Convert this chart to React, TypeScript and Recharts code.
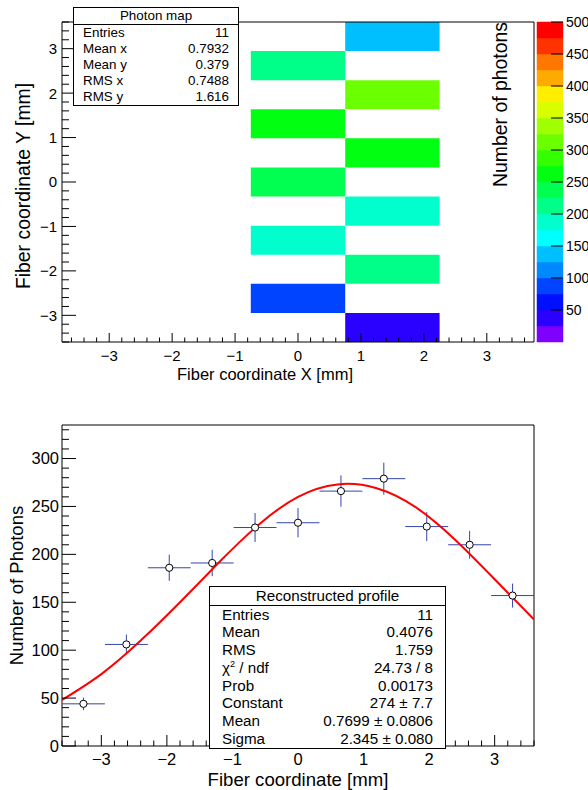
import React from "react";
import {
  ComposedChart,
  Scatter,
  Line,
  XAxis,
  YAxis,
  ReferenceArea,
  ReferenceLine,
  ErrorBar,
  Label,
} from "recharts";

const FONT = '"Liberation Sans", Arial, Helvetica, sans-serif';

// y-bin centres of the photon map, also the x positions of the profile points
const binCenters = [-3.273, -2.618, -1.964, -1.309, -0.655, 0, 0.655, 1.309, 1.964, 2.618, 3.273];
// which fiber column (x centre) is lit in each y bin
const mapColumn = [1.5, 0, 1.5, 0, 1.5, 0, 1.5, 0, 1.5, 0, 1.5];
const mapPhotons = [44, 90, 215, 185, 188, 237, 265, 262, 310, 212, 140];

const profilePhotons = [44, 106, 186, 191, 228, 233, 266, 279, 229, 210, 157];
const profileErrors = [6.6, 10.3, 13.6, 13.8, 15.1, 15.3, 16.3, 16.7, 15.1, 14.5, 12.5];
const profileXError = 0.327;

// gaussian fit
const fitX = [-3.6, -3.0, -2.4, -1.8, -1.2, -0.6, 0, 0.6, 1.2, 1.8, 2.4, 3.0, 3.6];
const fitY = [48, 75, 110, 150, 192, 231, 260, 273, 269, 249, 215, 174, 132];

// colour palette: 20 contours of 25 photons
const paletteLevels = [0, 25, 50, 75, 100, 125, 150, 175, 200, 225, 250, 275, 300, 325, 350, 375, 400, 425, 450, 475];
const paletteColors = [
  "#7f00ff", "#2a00ff", "#0010ff", "#0044ff", "#0088ff",
  "#00bfff", "#00ffff", "#00ffcc", "#00ff88", "#00ff50",
  "#00ff10", "#33ff00", "#6cff00", "#a0ff00", "#d8ff00",
  "#ffee00", "#ffaa00", "#ff7700", "#ff3300", "#ff0000",
];
const colorBarTicks = [50, 100, 150, 200, 250, 300, 350, 400, 450, 500];

const mapXTicks = [-3, -2, -1, 0, 1, 2, 3];
const mapYTicks = [-3, -2, -1, 0, 1, 2, 3];
const profileXTicks = [-3, -2, -1, 0, 1, 2, 3];
const profileYTicks = [0, 50, 100, 150, 200, 250, 300];

const mapStats = [
  ["Entries", "11"],
  ["Mean x", "0.7932"],
  ["Mean y", "0.379"],
  ["RMS x", "0.7488"],
  ["RMS y", "1.616"],
];
const profileStats = [
  ["Entries", "11"],
  ["Mean", "0.4076"],
  ["RMS", "1.759"],
  ["chi2", "24.73 / 8"],
  ["Prob", "0.00173"],
  ["Constant", "274 \u00b1 7.7"],
  ["Mean", "0.7699 \u00b1 0.0806"],
  ["Sigma", "2.345 \u00b1 0.080"],
];

const MAP_X = [-3.75, 3.75];
const MAP_Y = [-3.6, 3.6];
const MAP_HALF_X = 0.75;
const MAP_HALF_Y = 0.3273;
const PROF_X = [-3.6, 3.6];
const PROF_Y = [0, 335];

function minorTicks(lo: number, hi: number, step: number) {
  const out: number[] = [];
  const start = Math.ceil(lo / step - 1e-9);
  const end = Math.floor(hi / step + 1e-9);
  for (let k = start; k <= end; k++) out.push(Number((k * step).toFixed(6)));
  return out;
}

const fmt = (v: number) => (v < 0 ? "\u2212" + Math.abs(v) : String(v));
const isIn = (list: number[], v: number) => list.some((m) => Math.abs(m - v) < 1e-6);

function xTick(majors: number[], majorLen: number, minorLen: number, fontSize: number, gap: number) {
  return (props: any) => {
    const { x, y, payload } = props;
    const major = isIn(majors, payload.value);
    return (
      <g>
        <line x1={x} x2={x} y1={y} y2={y - (major ? majorLen : minorLen)} stroke="#000" />
        {major && (
          <text x={x} y={y + gap} textAnchor="middle" dy="0.71em" fontSize={fontSize} fontFamily={FONT} fill="#000">
            {fmt(payload.value)}
          </text>
        )}
      </g>
    );
  };
}

function yTick(majors: number[], majorLen: number, minorLen: number, fontSize: number, gap: number) {
  return (props: any) => {
    const { x, y, payload } = props;
    const major = isIn(majors, payload.value);
    return (
      <g>
        <line x1={x} x2={x + (major ? majorLen : minorLen)} y1={y} y2={y} stroke="#000" />
        {major && (
          <text x={x - gap} y={y} textAnchor="end" dy="0.36em" fontSize={fontSize} fontFamily={FONT} fill="#000">
            {fmt(payload.value)}
          </text>
        )}
      </g>
    );
  };
}

function colorFor(v: number) {
  let idx = 0;
  paletteLevels.forEach((l, i) => {
    if (v >= l) idx = i;
  });
  return paletteColors[idx];
}

function StatsBox({ title, rows, left, top, width, titleH, rowH, fontSize, pad }: any) {
  return (
    <div
      style={{
        position: "absolute",
        left,
        top,
        width,
        background: "#fff",
        border: "1px solid #000",
        boxSizing: "border-box",
        fontFamily: FONT,
        fontSize,
        color: "#000",
      }}
    >
      <div style={{ height: titleH, lineHeight: titleH + "px", textAlign: "center", borderBottom: "1px solid #000" }}>
        {title}
      </div>
      {rows.map(([k, v]: string[], i: number) => (
        <div
          key={i}
          style={{ height: rowH, lineHeight: rowH + "px", display: "flex", justifyContent: "space-between", padding: `0 ${pad}px` }}
        >
          <span>
            {k === "chi2" ? (
              <>
                {"\u03c7"}
                <span style={{ fontSize: "0.6em", position: "relative", top: "-0.7em" }}>2</span>
                {" / ndf"}
              </>
            ) : (
              k
            )}
          </span>
          <span>{v}</span>
        </div>
      ))}
    </div>
  );
}

export default function App() {
  const profile = binCenters.map((x, i) => ({
    x,
    y: profilePhotons[i],
    ey: profileErrors[i],
    ex: profileXError,
  }));
  const fit = fitX.map((x, i) => ({ x, y: fitY[i] }));

  return (
    <div style={{ position: "relative", width: 588, height: 790, background: "#fff", overflow: "hidden" }}>
      <style>{"body{margin:0}"}</style>

      {/* photon map */}
      <div style={{ position: "absolute", left: 0, top: 0 }}>
        <ComposedChart width={588} height={395} margin={{ top: 22, right: 54, bottom: 23, left: 10 }}>
          <XAxis
            type="number"
            dataKey="x"
            domain={MAP_X}
            allowDataOverflow
            ticks={minorTicks(MAP_X[0], MAP_X[1], 0.2)}
            interval={0}
            height={30}
            tickSize={0}
            tickMargin={0}
            axisLine={false}
            tickLine={false}
            tick={xTick(mapXTicks, 9, 4.5, 15, 8)}
          >
            <Label value="Fiber coordinate X [mm]" position="insideTop" offset={26} dx={-33} fontSize={16.5} fontFamily={FONT} fill="#000" />
          </XAxis>
          <YAxis
            type="number"
            domain={MAP_Y}
            allowDataOverflow
            ticks={minorTicks(MAP_Y[0], MAP_Y[1], 0.2)}
            interval={0}
            width={52}
            tickSize={0}
            tickMargin={0}
            axisLine={false}
            tickLine={false}
            tick={yTick(mapYTicks, 14, 7, 15, 5)}
          >
            <Label
              value="Fiber coordinate Y [mm]"
              position="insideLeft"
              offset={13}
              angle={-90}
              textAnchor="middle"
              dy={4}
              fontSize={19.4}
              fontFamily={FONT}
              fill="#000"
            />
          </YAxis>
          {binCenters.map((c, i) => (
            <ReferenceArea
              key={i}
              x1={mapColumn[i] - MAP_HALF_X}
              x2={mapColumn[i] + MAP_HALF_X}
              y1={c - MAP_HALF_Y}
              y2={c + MAP_HALF_Y}
              ifOverflow="hidden"
              fill={colorFor(mapPhotons[i])}
              fillOpacity={1}
              stroke="none"
            />
          ))}
          <ReferenceArea x1={MAP_X[0]} x2={MAP_X[1]} y1={MAP_Y[0]} y2={MAP_Y[1]} ifOverflow="visible" fill="none" stroke="#000" strokeWidth={1} />
        </ComposedChart>
      </div>

      {/* colour bar */}
      <div style={{ position: "absolute", left: 0, top: 0 }}>
        <ComposedChart width={588} height={395} margin={{ top: 22, right: 0, bottom: 53, left: 537 }}>
          <XAxis type="number" dataKey="x" domain={[0, 1]} allowDataOverflow hide />
          <YAxis
            type="number"
            orientation="right"
            domain={[0, 500]}
            allowDataOverflow
            ticks={colorBarTicks}
            interval={0}
            width={25}
            tickSize={0}
            tickMargin={0}
            axisLine={false}
            tickLine={false}
            tick={(props: any) => (
              <text x={props.x + 3} y={props.y} dy="0.36em" fontSize={14} fontFamily={FONT} fill="#000">
                {props.payload.value}
              </text>
            )}
          />
          {paletteLevels.map((l, i) => (
            <ReferenceArea
              key={i}
              x1={0}
              x2={1}
              y1={l}
              y2={l + 25}
              ifOverflow="visible"
              fill={paletteColors[i]}
              fillOpacity={1}
              stroke={paletteColors[i]}
              strokeWidth={0.5}
            />
          ))}
          {colorBarTicks.map((t) => (
            <ReferenceLine
              key={t}
              segment={[
                { x: 0.54, y: t },
                { x: 1, y: t },
              ]}
              ifOverflow="visible"
              stroke="#000"
              strokeWidth={1}
            />
          ))}
        </ComposedChart>
      </div>

      <svg width={588} height={395} style={{ position: "absolute", left: 0, top: 0 }}>
        <text
          x={507}
          y={22}
          transform="rotate(-90 507 22)"
          textAnchor="end"
          fontSize={19.4}
          fontFamily={FONT}
          fill="#000"
        >
          Number of photons
        </text>
      </svg>

      <StatsBox title="Photon map" rows={mapStats} left={73} top={7} width={166} titleH={16} rowH={16} fontSize={13.4} pad={9} />

      {/* reconstructed profile */}
      <div style={{ position: "absolute", left: 0, top: 395 }}>
        <ComposedChart width={588} height={395} margin={{ top: 30, right: 54, bottom: 14, left: 10 }}>
          <XAxis
            type="number"
            dataKey="x"
            domain={PROF_X}
            allowDataOverflow
            ticks={minorTicks(PROF_X[0], PROF_X[1], 0.2)}
            interval={0}
            height={30}
            tickSize={0}
            tickMargin={0}
            axisLine={false}
            tickLine={false}
            tick={xTick(profileXTicks, 11, 5.5, 16.5, 7)}
          >
            <Label value="Fiber coordinate [mm]" position="insideTop" offset={26.5} fontSize={18.6} fontFamily={FONT} fill="#000" />
          </XAxis>
          <YAxis
            type="number"
            domain={PROF_Y}
            allowDataOverflow
            ticks={minorTicks(PROF_Y[0], PROF_Y[1], 10)}
            interval={0}
            width={52}
            tickSize={0}
            tickMargin={0}
            axisLine={false}
            tickLine={false}
            tick={yTick(profileYTicks, 14, 7, 16.5, 3)}
          >
            <Label
              value="Number of Photons"
              position="insideLeft"
              offset={6.4}
              angle={-90}
              textAnchor="middle"
              fontSize={18.5}
              fontFamily={FONT}
              fill="#000"
            />
          </YAxis>
          <ReferenceArea x1={PROF_X[0]} x2={PROF_X[1]} y1={PROF_Y[0]} y2={PROF_Y[1]} ifOverflow="visible" fill="none" stroke="#000" strokeWidth={1} />
          <Scatter
            data={profile}
            dataKey="y"
            isAnimationActive={false}
            shape={(p: any) => <circle cx={p.cx} cy={p.cy} r={3.6} fill="#fff" stroke="#000" strokeWidth={1} />}
          >
            <ErrorBar dataKey="ey" direction="y" width={0} stroke="#3545a8" strokeWidth={1} />
            <ErrorBar dataKey="ex" direction="x" width={0} stroke="#3545a8" strokeWidth={1} />
          </Scatter>
          <Line
            data={fit}
            dataKey="y"
            type="natural"
            stroke="#ff0000"
            strokeWidth={2}
            dot={false}
            activeDot={false}
            isAnimationActive={false}
          />
        </ComposedChart>
      </div>

      <StatsBox
        title="Reconstructed profile"
        rows={profileStats}
        left={209}
        top={586}
        width={237}
        titleH={17.5}
        rowH={17.8}
        fontSize={15.2}
        pad={12}
      />
    </div>
  );
}
